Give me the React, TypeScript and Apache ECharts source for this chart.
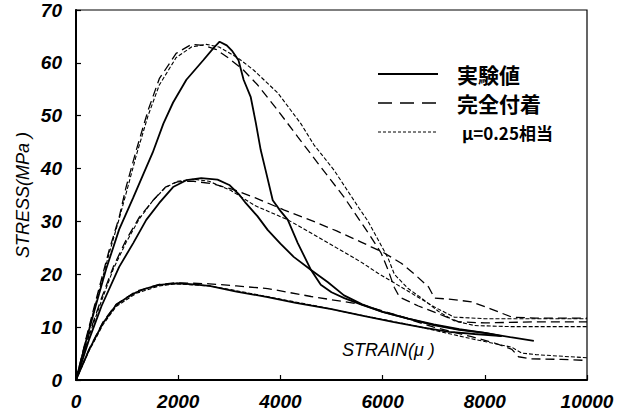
import React, { useEffect, useRef } from "react";
import * as echarts from "echarts";

// strain (μ) vs stress (MPa)
const xMin = 0, xMax = 10000, xStep = 2000;
const yMin = 0, yMax = 70, yStep = 10;

const legendLabels = ["実験値", "完全付着", "μ=0.25相当"];
const xAxisTitle = "STRAIN(μ )";
const yAxisTitle = "STRESS(MPa )";

// Group A (peak ≈ 64 MPa)
const aExp = [[0,0],[200,7.5],[400,14.5],[590,21],[845,28.5],[1120,34.5],[1320,39],[1500,43],[1710,48.5],[1900,52.5],[2160,56.8],[2490,60.5],[2690,62.8],[2810,64],[2950,63.3],[3060,62.2],[3180,60.5],[3280,56.8],[3420,53.5],[3520,48.6],[3615,43.5],[3710,39.7],[3850,34],[4000,32],[4145,30.3],[4340,25.9],[4600,20.8],[4790,18],[5000,16.6],[5250,15.5],[5600,14.2],[6000,12.9],[6500,11.6],[7000,10.5],[7500,9.6],[8000,8.9],[8500,8.1],[8960,7.4]];
const aFull = [[0,0],[200,8],[400,15.5],[650,24.6],[845,30.8],[980,36.5],[1180,43.5],[1410,51],[1630,57],[1960,61.8],[2260,63.5],[2500,63.3],[2750,62.5],[3000,60.8],[3280,58.6],[3556,55.8],[3950,51],[4340,46],[4735,41],[5245,34.6],[5776,27],[5972,24],[6100,21],[6230,17.5],[6330,15.7],[6700,14],[7100,12.5],[7490,11],[8000,10.8],[9000,11],[10000,11]];
const aMu = [[0,0],[200,7.8],[400,15],[650,24],[845,30.5],[1000,36],[1180,42.5],[1410,50],[1630,55.8],[1960,61],[2260,63],[2550,63.5],[2800,63],[3160,61],[3480,58.6],[3950,54.3],[4400,48.5],[4656,44.5],[5050,39.7],[5540,32.5],[5717,30],[5970,25.5],[6110,23],[6230,20],[6500,17.3],[6760,15.5],[7090,13],[7400,11.2],[7800,10.3],[8500,10.1],[10000,10.1]];

// Group B (peak ≈ 38 MPa)
const bExp = [[0,0],[250,7.5],[500,14],[845,21.4],[1120,25.9],[1375,30.3],[1630,33.5],[1900,36.5],[2160,37.8],[2450,38.2],[2770,37.9],[3000,36.9],[3200,35],[3320,33.5],[3550,31],[3750,28.4],[4000,25.8],[4260,23.3],[4600,20.8],[4930,18.5],[5245,16],[5600,14.3],[6000,12.9],[6500,11.6],[7000,10.4],[7500,9.5],[8000,8.9],[8330,8.3]];
const bFull = [[0,0],[250,8.5],[500,15.5],[730,21.4],[980,26.5],[1240,30.8],[1510,34],[1750,36.5],[1985,37.5],[2300,37.6],[2690,37.1],[3085,36],[3500,34.5],[4065,32.2],[4600,30.2],[5100,28.2],[5580,26.1],[5776,25.2],[6000,24.2],[6365,22.1],[6650,19.8],[6900,17.6],[7015,15.5],[7300,15.3],[7740,14.8],[8100,13.5],[8530,11.9],[9000,11.7],[10000,11.7]];
const bMu = [[0,0],[250,8.2],[500,15],[730,21],[980,26],[1240,30.5],[1510,34],[1750,36.4],[1985,37.6],[2300,38],[2600,37.6],[3025,35.9],[3500,33],[4145,30.3],[4600,27.8],[5100,25],[5580,22.3],[5910,20.2],[6500,16.8],[7015,13.8],[7400,11.9],[8000,11.6],[8530,11.6],[10000,11.6]];

// Group C (peak ≈ 18 MPa)
const cExp = [[0,0],[255,5.7],[530,10.8],[785,14.2],[1000,15.6],[1180,16.6],[1400,17.4],[1630,18],[1965,18.3],[2300,18.1],[2610,17.8],[3140,16.7],[3750,15.7],[4300,14.6],[5000,13.4],[5600,12.2],[6200,11],[6800,9.9],[7300,9.1],[7800,8.7],[8330,8.3]];
const cFull = [[0,0],[255,5.8],[530,11],[785,14.3],[1180,16.8],[1630,18.1],[1965,18.4],[2300,18.3],[2610,18.2],[3140,17.8],[3750,17.3],[4600,15.8],[5580,14.3],[6230,12.4],[7000,10],[7740,8.2],[8190,7],[8530,5.8],[8660,4.4],[8900,4],[9500,3.9],[10000,3.7]];
const cMu = [[0,0],[255,5.5],[530,10.5],[785,13.9],[1180,16.4],[1630,17.8],[1965,18.2],[2610,17.8],[3140,16.9],[4000,15.3],[4600,14.2],[5500,12.4],[6560,10.4],[7740,7.8],[8530,6.2],[8720,5.1],[9000,4.8],[10000,4.2]];

const expStyle = { color: "#000", width: 1.8, type: "solid" as const };
const fullStyle = { color: "#000", width: 1.3, type: [9, 5] };
const muStyle = { color: "#000", width: 1.1, type: [4, 2] };

const mkSeries = (name: string, data: number[][], lineStyle: any, z: number) => ({
  name,
  type: "line",
  data,
  showSymbol: false,
  symbol: "none",
  smooth: false,
  lineStyle,
  z,
});

export default function App() {
  const ref = useRef<HTMLDivElement>(null);
  useEffect(() => {
    document.body.style.margin = "0";
    const chart = echarts.init(ref.current!, null, { renderer: "svg" });
    const tickFont = {
      color: "#000",
      fontFamily: "Liberation Sans",
      fontStyle: "italic" as const,
      fontWeight: "bold" as const,
      fontSize: 19,
      formatter: (v: number) => String(v),
    };
    const legendX1 = 378, legendX2 = 438, legendTextX = 457;
    const rows = [74, 103, 132];
    chart.setOption({
      animation: false,
      backgroundColor: "#fff",
      grid: {
        left: 76, right: 45, top: 10, bottom: 40,
        show: true, borderColor: "#000", borderWidth: 1.2,
      },
      xAxis: {
        type: "value", min: xMin, max: xMax, interval: xStep,
        axisLine: { show: true, lineStyle: { color: "#000", width: 2 } },
        axisTick: { show: true, inside: true, length: 5, lineStyle: { color: "#000", width: 1.2 } },
        axisLabel: { ...tickFont, margin: 12 },
        splitLine: { show: false },
      },
      yAxis: {
        type: "value", min: yMin, max: yMax, interval: yStep,
        axisLine: { show: true, lineStyle: { color: "#000", width: 2 } },
        axisTick: { show: true, inside: true, length: 5, lineStyle: { color: "#000", width: 1.2 } },
        axisLabel: { ...tickFont, margin: 14 },
        splitLine: { show: false },
        name: yAxisTitle,
        nameLocation: "middle",
        nameGap: 44,
        nameMoveOverlap: false,
        nameTextStyle: {
          color: "#000", fontFamily: "Liberation Sans", fontStyle: "italic", fontSize: 18,
        },
      },
      series: [
        mkSeries(legendLabels[2], aMu, muStyle, 1),
        mkSeries(legendLabels[2], bMu, muStyle, 1),
        mkSeries(legendLabels[2], cMu, muStyle, 1),
        mkSeries(legendLabels[1], aFull, fullStyle, 2),
        mkSeries(legendLabels[1], bFull, fullStyle, 2),
        mkSeries(legendLabels[1], cFull, fullStyle, 2),
        mkSeries(legendLabels[0], aExp, expStyle, 3),
        mkSeries(legendLabels[0], bExp, expStyle, 3),
        mkSeries(legendLabels[0], cExp, expStyle, 3),
      ],
      graphic: [
        ...rows.map((y, i) => ({
          type: "line",
          shape: { x1: legendX1, y1: y, x2: legendX2, y2: y },
          style: {
            stroke: "#000",
            lineWidth: i === 0 ? 2 : i === 1 ? 1.5 : 1,
            lineDash: i === 0 ? null : i === 1 ? [14, 8] : [3, 2],
          },
        })),
        ...rows.map((y, i) => ({
          type: "text",
          x: i === 2 ? legendTextX + 5 : legendTextX,
          y,
          style: {
            text: legendLabels[i],
            fill: "#000",
            font: `bold ${i === 2 ? 17 : 21}px "Noto Sans CJK JP", "Liberation Sans", sans-serif`,
            verticalAlign: "middle",
          },
        })),
        {
          type: "text",
          x: 342,
          y: 350,
          style: {
            text: xAxisTitle,
            fill: "#000",
            font: 'italic 18px "Liberation Sans", sans-serif',
            verticalAlign: "middle",
          },
        },
      ],
    });
    return () => chart.dispose();
  }, []);
  return <div ref={ref} style={{ position: "absolute", left: 0, top: 0, width: 632, height: 420 }} />;
}
